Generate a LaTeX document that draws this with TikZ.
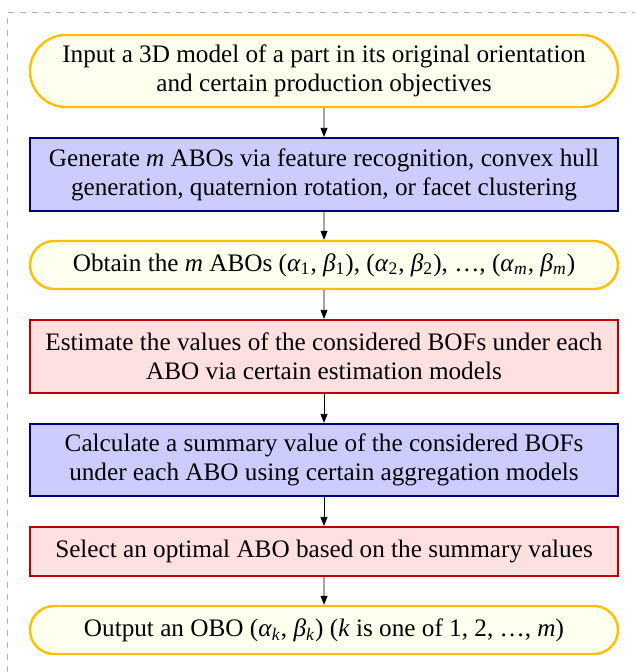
\documentclass[tikz,border=0pt]{standalone}
\usepackage{fontspec}
\setmainfont{Liberation Serif}
\usepackage{xcolor}
\usetikzlibrary{positioning}
\usetikzlibrary{arrows.meta}
\usetikzlibrary{shapes.misc}
\definecolor{ylwline}{HTML}{FFBE00}
\definecolor{ylwfill}{HTML}{FFFFF0}
\definecolor{bluline}{HTML}{000080}
\definecolor{blufill}{HTML}{CCCCFF}
\definecolor{redline}{HTML}{C00000}
\definecolor{redfill}{HTML}{FFE0E0}
\tikzset{ybox/.style = {rounded rectangle, draw=ylwline, fill=ylwfill, line width=1.2pt, minimum width=294pt, align=center, inner sep=0}}
\tikzset{bbox/.style = {rectangle, draw=bluline, fill=blufill, line width=1.1pt, minimum width=294pt, align=center, inner sep=0}}
\tikzset{rbox/.style = {rectangle, draw=redline, fill=redfill, line width=1.1pt, minimum width=294pt, align=center, inner sep=0}}
\tikzset{flow/.style = {-{Triangle[length=4.5pt,width=3.5pt]}, line width=0.4pt}}
\newcommand{\ital}[1]{\textit{#1}}

\begin{document}
\begin{tikzpicture}[x=0.5pt, y=-0.5pt, font=\fontsize{12.6pt}{14.5pt}\selectfont]
      \useasboundingbox (0,0) rectangle (635,672);
      \draw[gray!60, dashed, line width=0.5pt] (7,672) -- (7,13) -- (635,13);
      \node[ybox, minimum height=36pt] (input) at (324,71) {Input a 3D model of a part in its original orientation\\and certain production objectives};
      \node[bbox, minimum height=36.5pt] (gen) at (324,174.5) {Generate \ital{m} ABOs via feature recognition, convex hull\\generation, quaternion rotation, or facet clustering};
      \node[ybox, minimum height=24pt] (obtain) at (324,265) {Obtain the \ital{m} ABOs (\ital{α}\textsubscript{1}, \ital{β}\textsubscript{1}), (\ital{α}\textsubscript{2}, \ital{β}\textsubscript{2}), …, (\ital{α}\textsubscript{\ital{m}}, \ital{β}\textsubscript{\ital{m}})};
      \node[rbox, minimum height=36.5pt] (est) at (324,356.5) {Estimate the values of the considered BOFs under each\\ABO via certain estimation models};
      \node[bbox, minimum height=36pt] (calc) at (324,460) {Calculate a summary value of the considered BOFs\\under each ABO using certain aggregation models};
      \node[rbox, minimum height=24.5pt] (sel) at (324,551.5) {Select an optimal ABO based on the summary values};
      \node[ybox, minimum height=24pt] (output) at (324,630) {Output an OBO (\ital{α}\textsubscript{\ital{k}}, \ital{β}\textsubscript{\ital{k}}) (\ital{k} is one of 1, 2, …, \ital{m})};
      \draw[flow] (input) -- (gen);
      \draw[flow] (gen) -- (obtain);
      \draw[flow] (obtain) -- (est);
      \draw[flow] (est) -- (calc);
      \draw[flow] (calc) -- (sel);
      \draw[flow] (sel) -- (output);
    \end{tikzpicture}
\end{document}
